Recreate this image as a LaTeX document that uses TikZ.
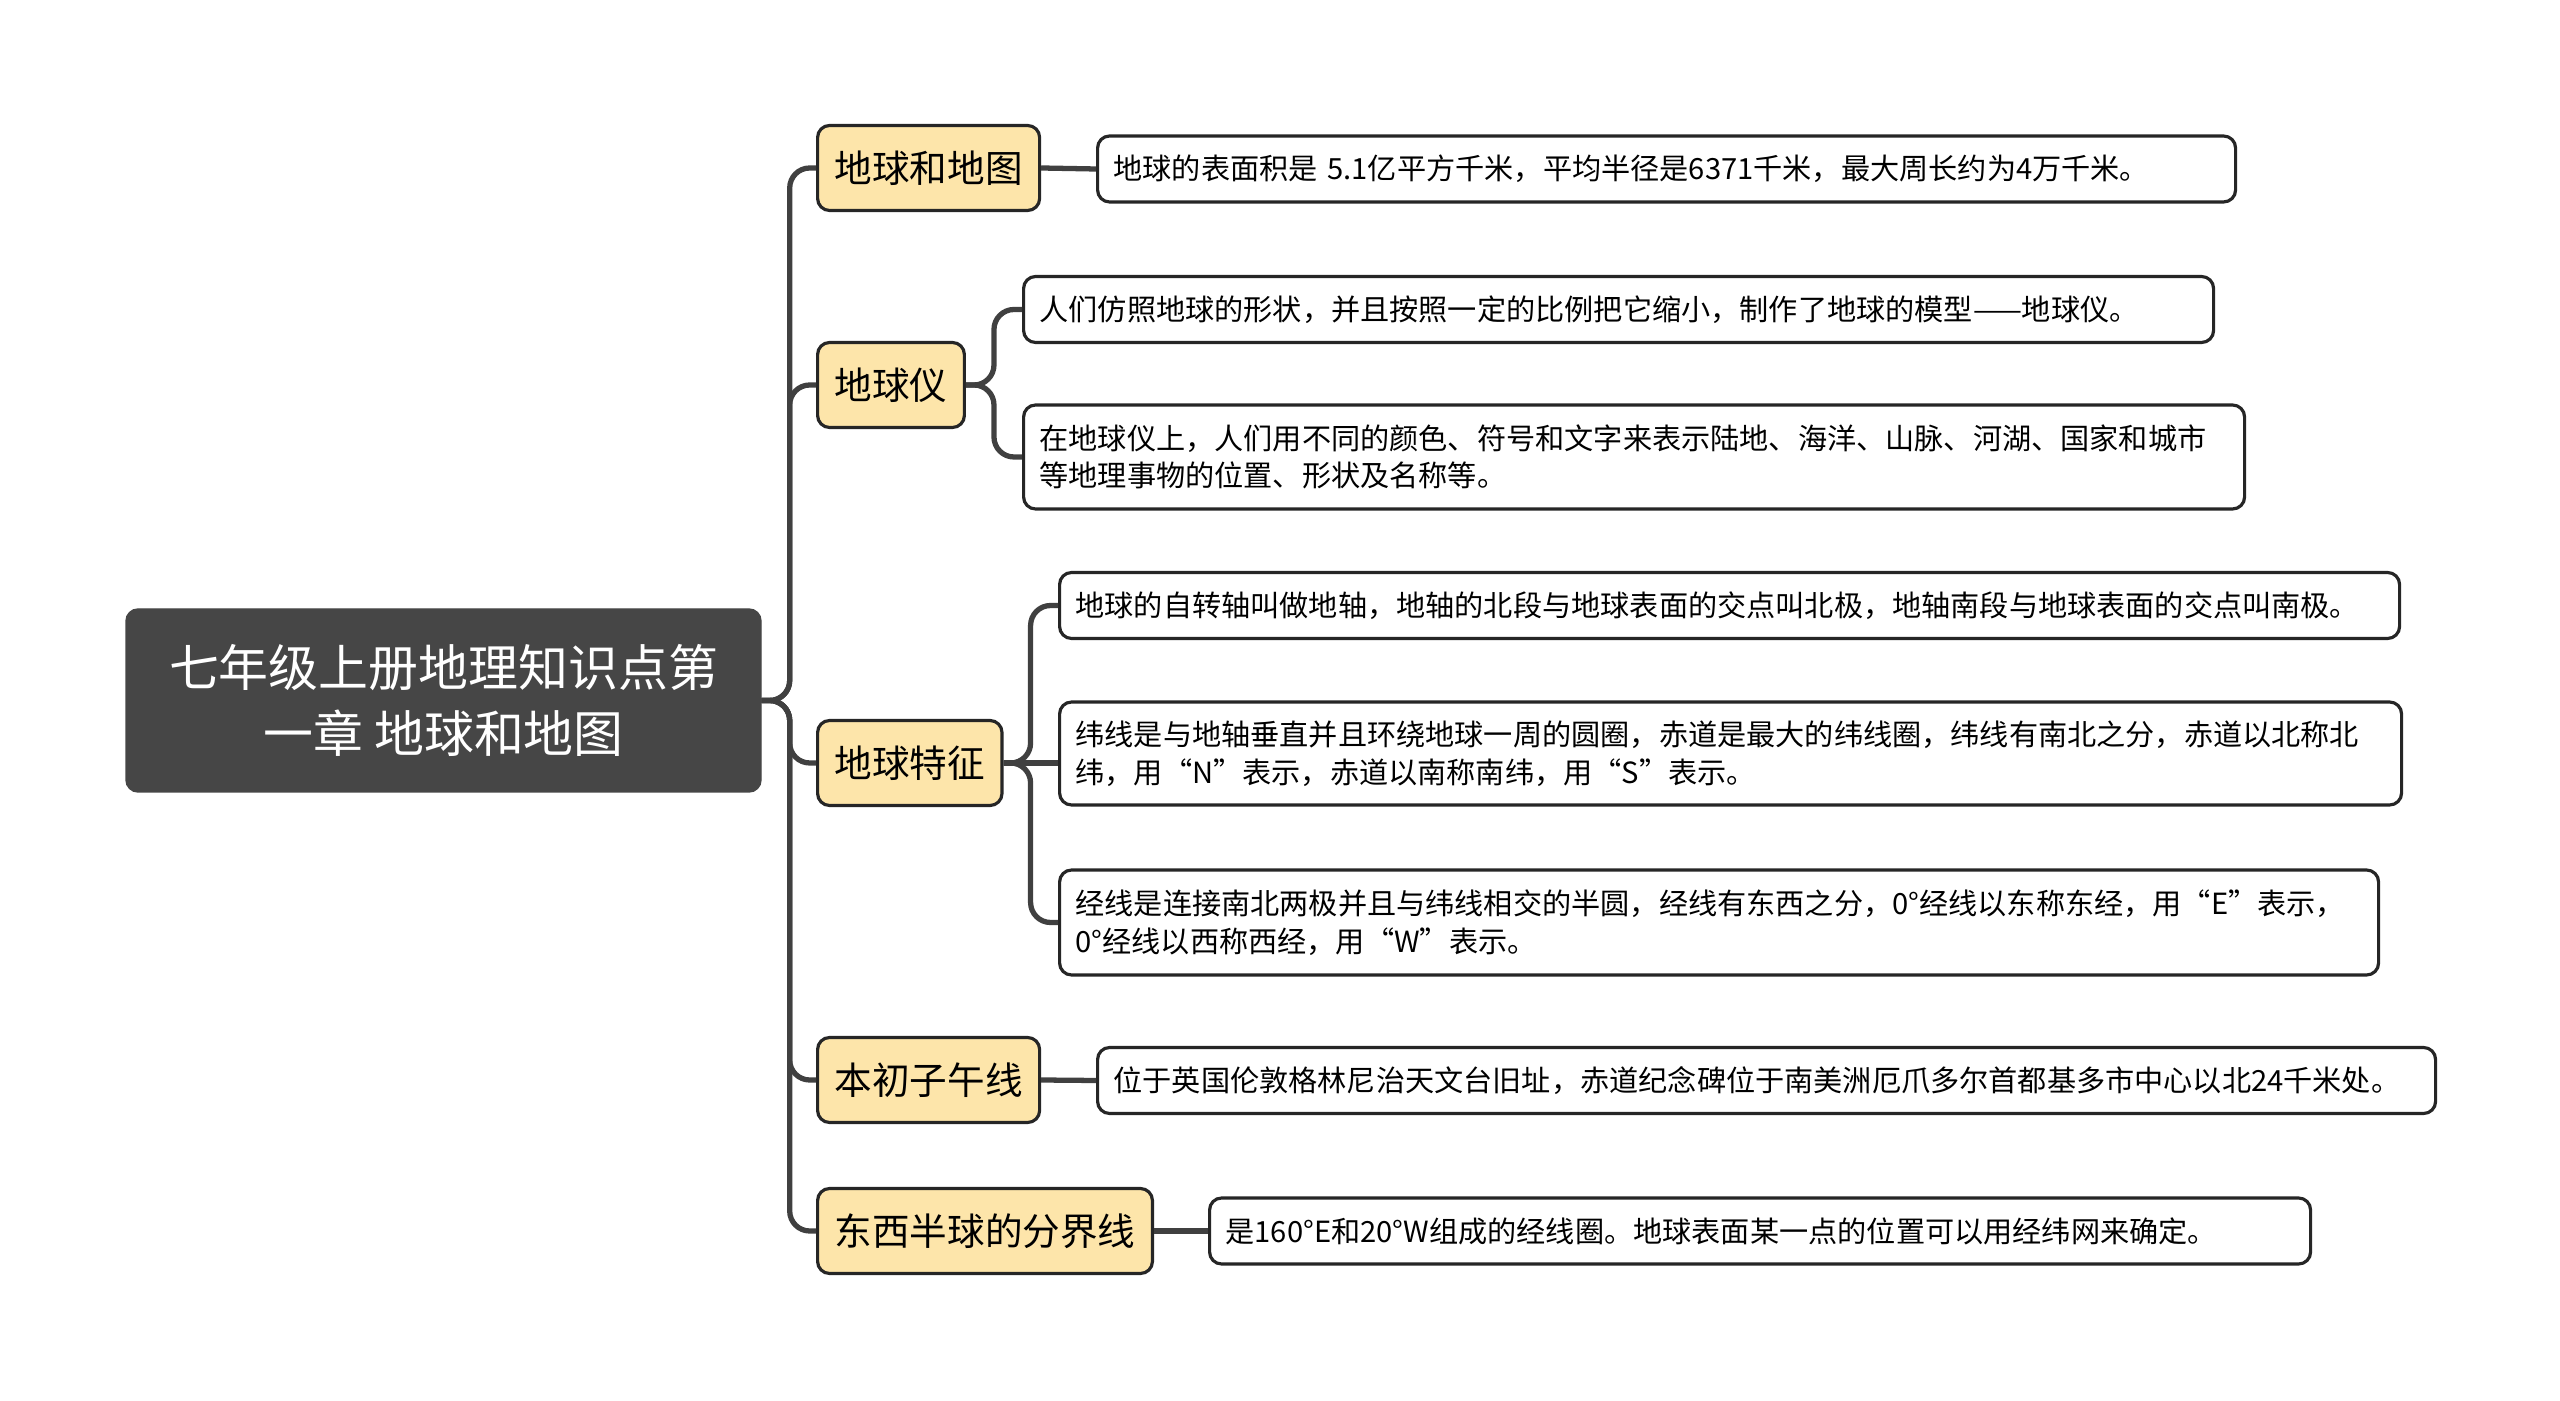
\documentclass[tikz,border=0pt]{standalone}
\usepackage{fontspec}
\setmainfont{Noto Sans CJK SC}
\usepackage{tikz}
\usetikzlibrary{positioning}
\usepackage{xcolor}
\definecolor{rootgray}{HTML}{464646}
\definecolor{topicyellow}{HTML}{FDE5AA}
\definecolor{linkgray}{HTML}{404040}

\tikzset{
  rootbox/.style={draw=rootgray, fill=rootgray, rounded corners=0.12cm, text=white,
    font=\fontsize{14.2pt}{19pt}\selectfont, align=center,
    minimum width=6.35cm, minimum height=1.83cm},
  topic/.style={draw=black!85, line width=0.9pt, fill=topicyellow, rounded corners=0.12cm,
    font=\fontsize{10.7pt}{13pt}\selectfont, anchor=west,
    inner xsep=0.17cm, minimum height=0.85cm},
  leaf/.style={draw=black!85, line width=0.9pt, fill=white, rounded corners=0.12cm,
    font=\fontsize{8.3pt}{10.7pt}\selectfont, anchor=west, align=left,
    inner xsep=0.16cm, minimum height=0.66cm},
  link/.style={draw=linkgray, line width=1.5pt, rounded corners=0.2cm}
}

\begin{document}
\begin{tikzpicture}
    % Fix the page size
    \useasboundingbox (0,0) rectangle (25.6,-14.01);

    % Central topic
    \node[rootbox] (root) at (4.435,-7.005) {七年级上册地理知识点第\\一章 地球和地图};

    % Main branches
    \node[topic] (t1) at (8.16,-1.68) {地球和地图};
    \node[topic] (t2) at (8.16,-3.85) {地球仪};
    \node[topic] (t3) at (8.16,-7.63) {地球特征};
    \node[topic] (t4) at (8.16,-10.80) {本初子午线};
    \node[topic] (t5) at (8.16,-12.31) {东西半球的分界线};

    % Details
    \node[leaf, text width=11.06cm] (l1) at (10.96,-1.69) {地球的表面积是 5.1亿平方千米，平均半径是6371千米，最大周长约为4万千米。};
    \node[leaf, text width=11.58cm] (l2a) at (10.22,-3.095) {人们仿照地球的形状，并且按照一定的比例把它缩小，制作了地球的模型——地球仪。};
    \node[leaf, text width=11.89cm, minimum height=1.04cm] (l2b) at (10.22,-4.57) {在地球仪上，人们用不同的颜色、符号和文字来表示陆地、海洋、山脉、河湖、国家和城市\\等地理事物的位置、形状及名称等。};
    \node[leaf, text width=13.08cm] (l3a) at (10.58,-6.055) {地球的自转轴叫做地轴，地轴的北段与地球表面的交点叫北极，地轴南段与地球表面的交点叫南极。};
    \node[leaf, text width=13.10cm, minimum height=1.03cm] (l3b) at (10.58,-7.535) {纬线是与地轴垂直并且环绕地球一周的圆圈，赤道是最大的纬线圈，纬线有南北之分，赤道以北称北\\纬，用“N”表示，赤道以南称南纬，用“S”表示。};
    \node[leaf, text width=12.87cm, minimum height=1.05cm] (l3c) at (10.58,-9.225) {经线是连接南北两极并且与纬线相交的半圆，经线有东西之分，0°经线以东称东经，用“E”表示，\\0°经线以西称西经，用“W”表示。};
    \node[leaf, text width=13.06cm] (l4) at (10.96,-10.805) {位于英国伦敦格林尼治天文台旧址，赤道纪念碑位于南美洲厄爪多尔首都基多市中心以北24千米处。};
    \node[leaf, text width=10.69cm] (l5) at (12.08,-12.31) {是160°E和20°W组成的经线圈。地球表面某一点的位置可以用经纬网来确定。};

    % Connectors
    \foreach \t in {t1,t2,t3,t4,t5} \draw[link] (root.east) -- ++(0.28,0) |- (\t.west);
    \draw[link] (t1.east) -- (l1.west);
    \foreach \l in {l2a,l2b} \draw[link] (t2.east) -- ++(0.28,0) |- (\l.west);
    \foreach \l in {l3a,l3c} \draw[link] (t3.east) -- ++(0.27,0) |- (\l.west);
    \draw[link] (t3.east) -- (l3b.west |- t3.east);
    \draw[link] (t4.east) -- (l4.west);
    \draw[link] (t5.east) -- (l5.west);
\end{tikzpicture}
\end{document}
